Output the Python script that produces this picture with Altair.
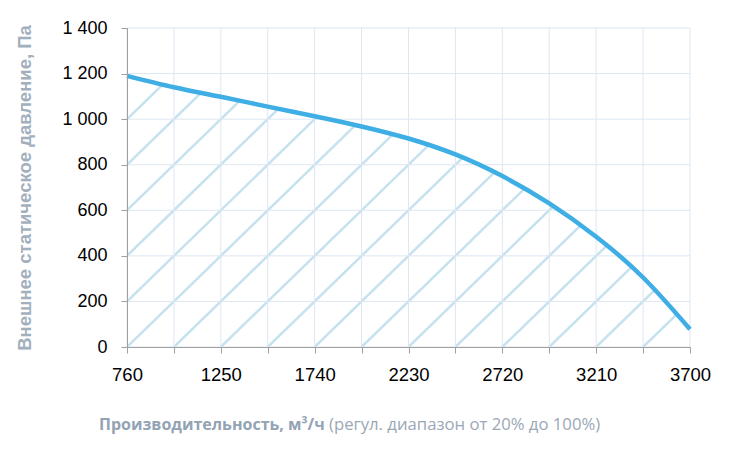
import altair as alt
import pandas as pd

# Curve data
flow = [760, 1005, 1250, 1495, 1740, 1985, 2230, 2475, 2720, 2965, 3210, 3455, 3700]
pressure = [1190, 1140, 1098, 1055, 1013, 968, 915, 845, 750, 630, 484, 305, 78]

x_ticks = [760, 1005, 1250, 1495, 1740, 1985, 2230, 2475, 2720, 2965, 3210, 3455, 3700]
x_labels = [760, 1250, 1740, 2230, 2720, 3210, 3700]
y_ticks = [0, 200, 400, 600, 800, 1000, 1200, 1400]

y_title = "Внешнее статическое давление, Па"
x_title_bold = "Производительность, м³/ч"
x_title_regular = "(регул. диапазон от 20% до 100%)"

curve = pd.DataFrame({"flow": flow, "pressure": pressure})

# hatch decoration: diagonal lines through grid intersections
step = x_ticks[1] - x_ticks[0]
hatch = pd.DataFrame({"x0": [x_ticks[0] + step * k for k in range(-7, 13)]})
hatch["x1"] = hatch["x0"] + step * 7
hatch["y0"] = y_ticks[0]
hatch["y1"] = y_ticks[-1]

xs = alt.Scale(domain=[760, 3700], nice=False, zero=False)
ys = alt.Scale(domain=[0, 1400], nice=False)

label_font = "Liberation Sans, Arial"
grid_color = "#dde7f1"
axis_grey = "#a0a0a0"

x_axis = alt.Axis(
    values=x_ticks,
    labelExpr="indexof([" + ",".join(str(v) for v in x_labels) + "], datum.value) >= 0 ? datum.value : ''",
    grid=False,
    title=None,
    labelFont=label_font,
    labelFontSize=18.5,
    labelColor="#000000",
    labelPadding=12,
    tickSize=6,
    tickColor=axis_grey,
    domainColor=axis_grey,
    labelFlush=False,
    labelOverlap=False,
    zindex=1,
)
y_axis = alt.Axis(
    values=y_ticks,
    labelExpr="replace(format(datum.value, ','), ',', ' ')",
    grid=False,
    title=y_title,
    titleFont="Liberation Sans",
    titleFontSize=18.5,
    titleFontWeight="bold",
    titleColor="#a2b0be",
    titlePadding=27,
    labelFont=label_font,
    labelFontSize=18,
    labelColor="#000000",
    labelPadding=14,
    tickSize=6,
    tickColor=axis_grey,
    domainColor=axis_grey,
    labelOverlap=False,
    zindex=1,
)

hatch_layer = alt.Chart(hatch).mark_rule(color="#c6e2ee", strokeWidth=2.5, clip=True).encode(
    x=alt.X("x0:Q", scale=xs, axis=x_axis),
    x2="x1:Q",
    y=alt.Y("y0:Q", scale=ys, axis=y_axis),
    y2="y1:Q",
)

mask = alt.Chart(curve).mark_area(color="white", interpolate="natural", clip=True).encode(
    x=alt.X("flow:Q", scale=xs),
    y=alt.Y("pressure:Q", scale=ys),
    y2=alt.datum(1400),
)

vgrid = alt.Chart(pd.DataFrame({"v": x_ticks})).mark_rule(color=grid_color, strokeWidth=1).encode(
    x=alt.X("v:Q", scale=xs)
)
hgrid = alt.Chart(pd.DataFrame({"v": y_ticks})).mark_rule(color=grid_color, strokeWidth=1).encode(
    y=alt.Y("v:Q", scale=ys)
)

line = alt.Chart(curve).mark_line(color="#3eaee5", strokeWidth=4.5, interpolate="natural").encode(
    x=alt.X("flow:Q", scale=xs),
    y=alt.Y("pressure:Q", scale=ys),
)

title_bold = alt.Chart(pd.DataFrame({"t": [x_title_bold]})).mark_text(
    font="Open Sans", fontSize=16, fontWeight="bold", color="#93a3b3", align="left", baseline="middle"
).encode(x=alt.value(-28), y=alt.value(397), text="t:N")

title_reg = alt.Chart(pd.DataFrame({"t": [x_title_regular]})).mark_text(
    font="Open Sans", fontSize=16.7, color="#9aa8b6", align="left", baseline="middle"
).encode(x=alt.value(202), y=alt.value(397), text="t:N")

chart = alt.layer(hatch_layer, mask, vgrid, hgrid, line, title_bold, title_reg).properties(
    width=563,
    height=319,
    autosize=alt.AutoSizeParams(type="none"),
    padding={"left": 119, "top": 20, "right": 32, "bottom": 90},
).configure_view(stroke=None)

chart.save("out.html", embed_options={"renderer": "svg", "actions": False})
